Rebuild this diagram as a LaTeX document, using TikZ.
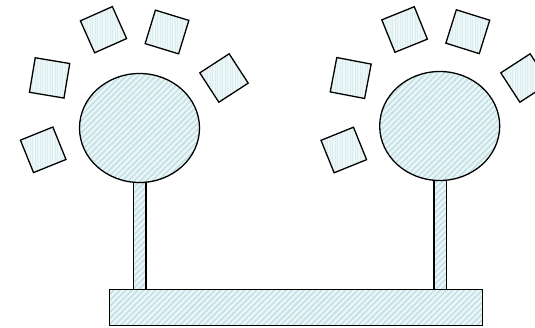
\documentclass[tikz,border=0pt]{standalone}
\usetikzlibrary{shapes.geometric,patterns.meta}
\definecolor{hatchc}{HTML}{C4E2E7}
\definecolor{lightc}{HTML}{EEF7F8}
\definecolor{sqc}{HTML}{DCEEF0}
\tikzset{
  hatched/.style={draw=black, line width=1.3pt, preaction={fill=lightc}, pattern={Lines[angle=45,distance=4.2pt,line width=1.8pt]}, pattern color=hatchc},
  tile/.style={draw=black, line width=1.3pt, preaction={fill=lightc}, pattern={Lines[angle=90,distance=2.5pt,line width=0.8pt]}, pattern color=sqc, rectangle, inner sep=0pt, minimum width=35pt, minimum height=35pt},
  head/.style={hatched, ellipse, inner sep=0pt, minimum width=120pt, minimum height=109pt},
}
\begin{document}
\begin{tikzpicture}[x=1pt,y=-1pt]
\useasboundingbox (0,0) rectangle (535,327);
% stems
\node[hatched, rectangle, inner sep=0pt, minimum width=12.5pt, minimum height=108pt, anchor=north] (stemL) at (139.6,181) {};
\node[hatched, rectangle, inner sep=0pt, minimum width=12.5pt, minimum height=111pt, anchor=north] (stemR) at (440.3,178) {};
% heads
\node[head] (headL) at (139.5,128) {};
\node[head] (headR) at (439.7,126) {};
% base
\node[hatched, rectangle, inner sep=0pt, minimum width=373pt, minimum height=36.5pt, anchor=north west] (base) at (109,288.5) {};
% left tiles
\node[tile, rotate=24] (l1) at (103.5,29.7) {};
\node[tile, rotate=-17] (l2) at (167,32) {};
\node[tile, rotate=-9.5] (l3) at (49.6,77.9) {};
\node[tile, rotate=33] (l4) at (224,78) {};
\node[tile, rotate=22] (l5) at (43.2,149.8) {};
% right tiles
\node[tile, rotate=22] (r1) at (404.6,29.5) {};
\node[tile, rotate=-17.4] (r2) at (467.8,31.7) {};
\node[tile, rotate=-10.8] (r3) at (350.7,78) {};
\node[tile, rotate=33] (r4) at (525,78) {};
\node[tile, rotate=22] (r5) at (343.8,150) {};
\end{tikzpicture}
\end{document}
